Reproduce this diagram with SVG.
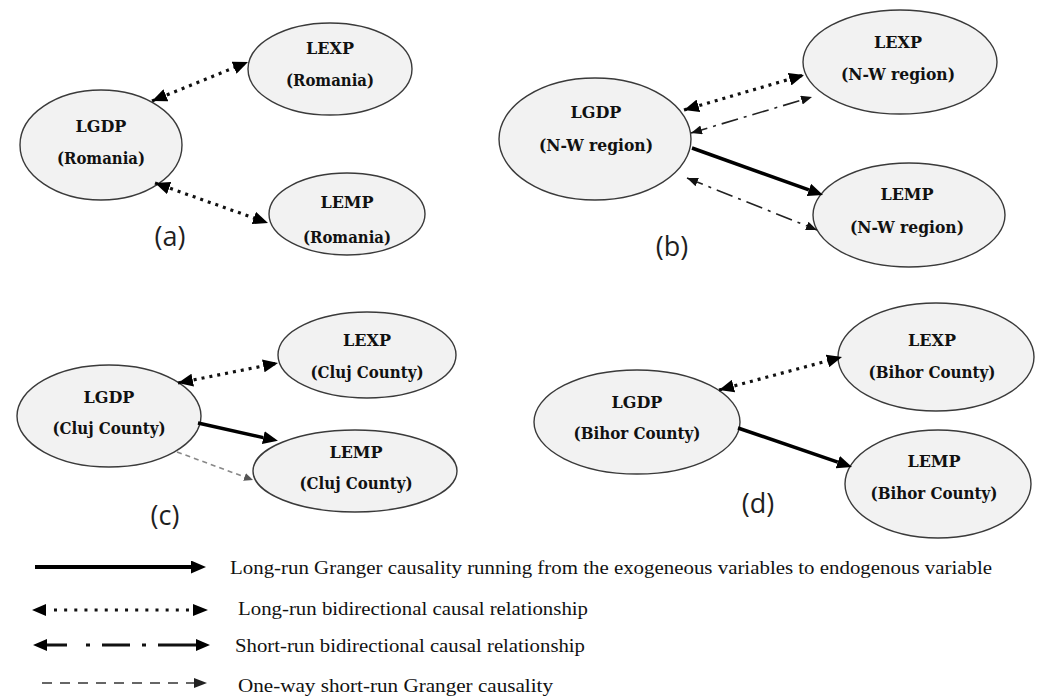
<svg xmlns="http://www.w3.org/2000/svg" width="1040" height="697" viewBox="0 0 1040 697">
<style>
.node ellipse{fill:#f2f2f2;stroke:#3a3a3a;stroke-width:1.4}
.node text{font-family:"DejaVu Serif","Liberation Serif",serif;font-weight:bold;font-size:16px;fill:#111;text-anchor:middle}
.lab{font-family:"Open Sans","Liberation Sans",sans-serif;font-size:27px;fill:#1f1f1f;text-anchor:middle}
.leg{font-family:"Liberation Serif",serif;font-size:18px;fill:#111}
.dot{fill:none;stroke:#111;stroke-width:3.2;stroke-dasharray:3 5}
.dd{fill:none;stroke:#222;stroke-width:1.6;stroke-dasharray:17 6 3 6}
.solid{fill:none;stroke:#000;stroke-width:3.5}
.dash{fill:none;stroke:#888;stroke-width:1.6;stroke-dasharray:5 4}
.lseg{stroke:#111;stroke-width:3.2}
</style>
<defs>
<marker id="ah" markerUnits="userSpaceOnUse" markerWidth="15" markerHeight="13" refX="15" refY="6.5" orient="auto-start-reverse">
<path d="M0,0 L15,6.5 L0,13 z" fill="#000"/>
</marker>
<marker id="ahs" markerUnits="userSpaceOnUse" markerWidth="15" markerHeight="13" refX="0" refY="6.5" orient="auto">
<path d="M0,0 L15,6.5 L0,13 z" fill="#000"/>
</marker>
<marker id="ahm" markerUnits="userSpaceOnUse" markerWidth="11" markerHeight="9" refX="11" refY="4.5" orient="auto-start-reverse">
<path d="M0,0 L11,4.5 L0,9 z" fill="#111"/>
</marker>
<marker id="ahg" markerUnits="userSpaceOnUse" markerWidth="9" markerHeight="8" refX="9" refY="4" orient="auto">
<path d="M0,0 L9,4 L0,8 z" fill="#555"/>
</marker>
</defs>

<!-- (a) nodes -->
<g id="a-lexp" class="node"><ellipse cx="330" cy="69" rx="82" ry="46"/><text x="330" y="54">LEXP</text><text x="330" y="86" textLength="88" lengthAdjust="spacingAndGlyphs">(Romania)</text></g>
<g id="a-lgdp" class="node"><ellipse cx="101" cy="145" rx="81" ry="55"/><text x="101" y="132">LGDP</text><text x="101" y="164" textLength="88" lengthAdjust="spacingAndGlyphs">(Romania)</text></g>
<g id="a-lemp" class="node"><ellipse cx="347" cy="214" rx="78" ry="41"/><text x="347" y="208">LEMP</text><text x="347" y="243" textLength="88" lengthAdjust="spacingAndGlyphs">(Romania)</text></g>
<text class="lab" x="170" y="246">(a)</text>

<!-- (b) nodes -->
<g id="b-lexp" class="node"><ellipse cx="900" cy="62" rx="97" ry="52"/><text x="898" y="48">LEXP</text><text x="898" y="80" textLength="114" lengthAdjust="spacingAndGlyphs">(N-W region)</text></g>
<g id="b-lgdp" class="node"><ellipse cx="595" cy="139" rx="96" ry="61"/><text x="596" y="118">LGDP</text><text x="596" y="151" textLength="114" lengthAdjust="spacingAndGlyphs">(N-W region)</text></g>
<g id="b-lemp" class="node"><ellipse cx="909" cy="215" rx="96" ry="52"/><text x="907" y="200">LEMP</text><text x="907" y="233" textLength="114" lengthAdjust="spacingAndGlyphs">(N-W region)</text></g>
<text class="lab" x="672" y="256">(b)</text>

<!-- (c) nodes -->
<g id="c-lexp" class="node"><ellipse cx="367" cy="355" rx="89" ry="43"/><text x="367" y="346">LEXP</text><text x="367" y="378" textLength="113" lengthAdjust="spacingAndGlyphs">(Cluj  County)</text></g>
<g id="c-lgdp" class="node"><ellipse cx="109" cy="416" rx="92" ry="51"/><text x="109" y="403">LGDP</text><text x="109" y="434" textLength="113" lengthAdjust="spacingAndGlyphs">(Cluj  County)</text></g>
<g id="c-lemp" class="node"><ellipse cx="355" cy="471" rx="102" ry="41"/><text x="356" y="458">LEMP</text><text x="356" y="489" textLength="113" lengthAdjust="spacingAndGlyphs">(Cluj  County)</text></g>
<text class="lab" x="165" y="525">(c)</text>

<!-- (d) nodes -->
<g id="d-lexp" class="node"><ellipse cx="936" cy="357" rx="98" ry="54"/><text x="932" y="346">LEXP</text><text x="932" y="378" textLength="127" lengthAdjust="spacingAndGlyphs">(Bihor County)</text></g>
<g id="d-lgdp" class="node"><ellipse cx="637" cy="422" rx="103" ry="52"/><text x="637" y="408">LGDP</text><text x="637" y="439" textLength="127" lengthAdjust="spacingAndGlyphs">(Bihor County)</text></g>
<g id="d-lemp" class="node"><ellipse cx="938" cy="484" rx="93" ry="54"/><text x="934" y="467">LEMP</text><text x="934" y="499" textLength="127" lengthAdjust="spacingAndGlyphs">(Bihor County)</text></g>
<text class="lab" x="758" y="513">(d)</text>

<g id="connectors">
<!-- (a) -->
<path class="dot" d="M152,101 L248,62" marker-start="url(#ah)" marker-end="url(#ah)"/>
<path class="dot" d="M155,183 L268,223" marker-start="url(#ah)" marker-end="url(#ah)"/>
<!-- (b) -->
<path class="dot" d="M684,110 L804,75" marker-start="url(#ah)" marker-end="url(#ah)"/>
<path class="dd" d="M691,133 L812,97" marker-start="url(#ahm)" marker-end="url(#ahm)"/>
<path class="solid" d="M692,148 L808.9,189.9" marker-end="url(#ahs)"/>
<path class="dd" d="M687,178 L817,230" marker-start="url(#ahm)" marker-end="url(#ahm)"/>
<!-- (c) -->
<path class="dot" d="M178,383 L278,363" marker-start="url(#ah)" marker-end="url(#ah)"/>
<path class="solid" d="M198,423 L263.3,437.6" marker-end="url(#ahs)"/>
<path class="dash" d="M177,452 L253,480" marker-end="url(#ahg)"/>
<!-- (d) -->
<path class="dot" d="M719,390 L842,357" marker-start="url(#ah)" marker-end="url(#ah)"/>
<path class="solid" d="M738,428 L837.8,462.1" marker-end="url(#ahs)"/>
</g>

<!-- legend -->
<g id="legend">
<path class="solid" d="M35,567 L191,567" style="stroke-width:4" marker-end="url(#ahs)"/>
<path d="M54,610 L190,610" fill="none" stroke="#111" stroke-width="3.2" stroke-dasharray="3 7.15"/>
<path d="M46,604 L32,610 L46,616 z M193,604 L208,610 L193,616 z" fill="#000"/>
<path class="lseg" d="M44,645 L67,645 M86,645 L90,645 M102,645 L130,645 M142,645 L146,645 M158,645 L197,645"/>
<path d="M47,639 L33,645 L47,651 z M196,639 L210,645 L196,651 z" fill="#000"/>
<path d="M42,683 L194,683" fill="none" stroke="#666" stroke-width="2" stroke-dasharray="10 8"/>
<path d="M194,678 L207,683 L194,688 z" fill="#222"/>
<text class="leg" x="230" y="574" textLength="762" lengthAdjust="spacingAndGlyphs">Long-run Granger causality running from the exogeneous variables to endogenous variable</text>
<text class="leg" x="238" y="615" textLength="350" lengthAdjust="spacingAndGlyphs">Long-run bidirectional causal relationship</text>
<text class="leg" x="235" y="652" textLength="350" lengthAdjust="spacingAndGlyphs">Short-run bidirectional causal relationship</text>
<text class="leg" x="238" y="692" textLength="315" lengthAdjust="spacingAndGlyphs">One-way short-run Granger causality</text>
</g>
</svg>
